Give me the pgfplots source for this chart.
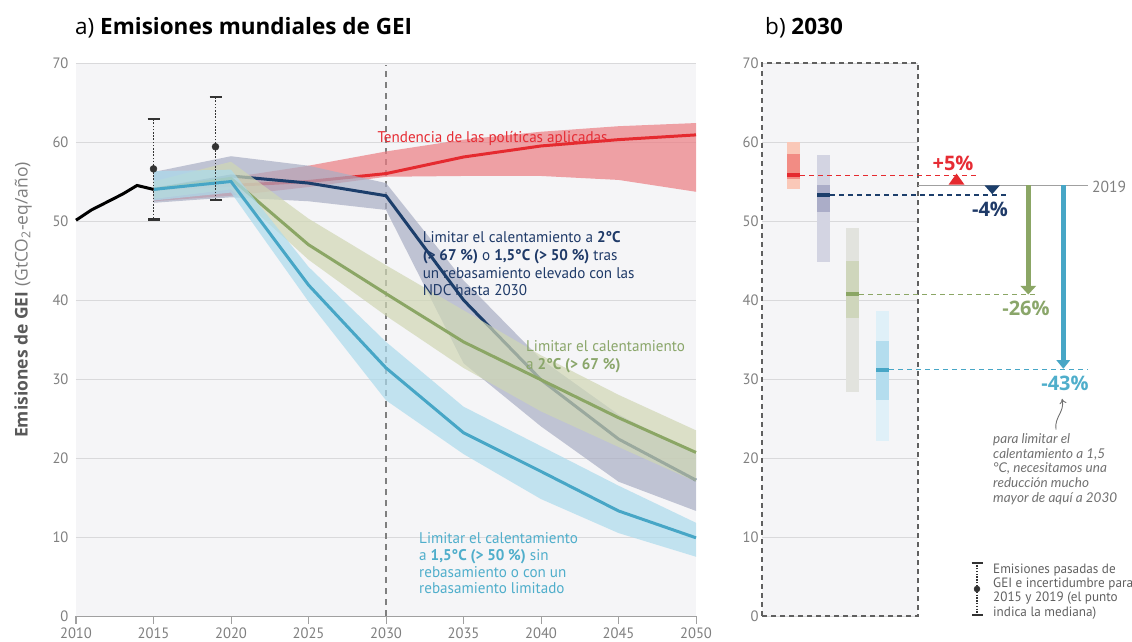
\documentclass[border=0pt]{standalone}
\usepackage{fontspec}
\setmainfont{PT Sans}[FakeStretch=0.975]
\newfontfamily\osfont{Open Sans}
\newfontfamily\notefont{Lato}
\usepackage{pgfplots}
\pgfplotsset{compat=1.18}
\usetikzlibrary{arrows.meta}
\definecolor{bg}{HTML}{F5F5F7}
\definecolor{gridc}{HTML}{D9D9DB}
\definecolor{axisc}{HTML}{A0A0A0}
\definecolor{tickc}{HTML}{7F7F7F}
\definecolor{boxc}{HTML}{606060}
\definecolor{redl}{HTML}{E52A2F}
\definecolor{redb}{HTML}{EC7C82}
\definecolor{navyl}{HTML}{1C3E6B}
\definecolor{navyb}{HTML}{A9AEC4}
\definecolor{greenl}{HTML}{8BA665}
\definecolor{greenb}{HTML}{D0D7B4}
\definecolor{bluel}{HTML}{47A6C6}
\definecolor{blueb}{HTML}{ACDBED}
\definecolor{ebc}{HTML}{333333}
\definecolor{redlt}{HTML}{FAC8B8}
\definecolor{reddk}{HTML}{F28C84}
\definecolor{navylt}{HTML}{D3D4E2}
\definecolor{navydk}{HTML}{ABADC8}
\definecolor{greenlt}{HTML}{E2E3DE}
\definecolor{greendk}{HTML}{CFD6BC}
\definecolor{bluelt}{HTML}{DFF0F8}
\definecolor{bluedk}{HTML}{B4DDEE}
\definecolor{notec}{HTML}{707070}
\definecolor{redt}{HTML}{E62C34}
\definecolor{navyt}{HTML}{1F3A68}
\definecolor{greent}{HTML}{8AA66A}
\definecolor{bluet}{HTML}{4FAECB}
\newcommand\fs[2]{\fontsize{#1}{#2}\selectfont}

\begin{document}
\begin{tikzpicture}
% ================= LEFT PANEL =================
\begin{axis}[
  name=L, at={(0pt,0pt)}, anchor=south west,
  scale only axis, width=620pt, height=553pt,
  xmin=2010, xmax=2050, ymin=0, ymax=70,
  xtick={2010,2015,...,2050}, ytick={0,10,...,70},
  axis background/.style={fill=bg},
  ymajorgrids, grid style={draw=gridc, line width=0.9pt},
  axis x line*=bottom, axis y line*=left,
  x axis line style={draw=axisc, line width=1pt, -},
  y axis line style={draw=none},
  xtick style={draw=axisc, line width=1pt},
  ytick style={draw=none},
  tick align=outside, major tick length=8pt,
  ticklabel style={font=\fs{15}{15}, text=tickc},
  yticklabel style={xshift=4pt},
  /pgf/number format/assume math mode=true,
  /pgf/number format/1000 sep={},
  clip=false,
]
% 2030 dashed reference
\addplot[draw=tickc, line width=1.2pt, dash pattern=on 6pt off 5pt] coordinates {(2030,0) (2030,69.8)};
% current policies
\addplot[fill=redb, fill opacity=0.7, draw=none] coordinates {
 (2015,54.0) (2020,55.5) (2025,57.0) (2030,58.8) (2035,60.3) (2040,61.3) (2045,62.0) (2050,62.4)
 (2050,53.7) (2045,55.2) (2040,55.7) (2035,55.7) (2030,55.6) (2025,54.3) (2020,53.2) (2015,52.5)} -- cycle;
\addplot[redl, line width=3pt] coordinates {
 (2015,54.0) (2020,54.5) (2025,55.0) (2030,56.0) (2035,58.1) (2040,59.5) (2045,60.3) (2050,60.9)};
% NDC + overshoot
\addplot[fill=navyb, fill opacity=0.7, draw=none] coordinates {
 (2015,56.2) (2020,58.2) (2025,57.0) (2030,54.8) (2035,42.5) (2040,32.5) (2045,25.5) (2050,20.5)
 (2050,13.3) (2045,17.0) (2040,24.0) (2035,32.0) (2030,51.4) (2025,52.5) (2020,53.0) (2015,52.3)} -- cycle;
\addplot[navyl, line width=3pt] coordinates {
 (2015,54.0) (2020,55.7) (2025,54.8) (2030,53.2) (2035,40.0) (2040,29.9) (2045,22.4) (2050,17.2)};
% 2C
\addplot[fill=greenb, fill opacity=0.7, draw=none] coordinates {
 (2015,55.0) (2020,57.5) (2025,50.3) (2030,44.4) (2035,38.7) (2040,33.0) (2045,28.0) (2050,23.5)
 (2050,17.0) (2045,21.4) (2040,25.9) (2035,31.4) (2030,38.0) (2025,45.1) (2020,54.0) (2015,52.8)} -- cycle;
\addplot[greenl, line width=3pt] coordinates {
 (2015,54.0) (2020,55.4) (2025,47.0) (2030,40.8) (2035,34.7) (2040,29.9) (2045,25.1) (2050,20.7)};
% 1.5C
\addplot[fill=blueb, fill opacity=0.7, draw=none] coordinates {
 (2015,56.3) (2020,56.5) (2025,44.2) (2030,34.7) (2035,26.5) (2040,21.5) (2045,16.5) (2050,11.8)
 (2050,7.5) (2045,10.5) (2040,14.8) (2035,20.5) (2030,27.3) (2025,39.8) (2020,53.6) (2015,52.6)} -- cycle;
\addplot[bluel, line width=3pt] coordinates {
 (2015,54.0) (2020,55.0) (2025,41.9) (2030,31.4) (2035,23.2) (2040,18.3) (2045,13.3) (2050,9.9)};
% historical
\addplot[black, line width=3pt] coordinates {
 (2010,50.1) (2011,51.4) (2012,52.4) (2013,53.4) (2013.94,54.5) (2015,54.0)};
% error bars
\addplot[only marks, mark=*, mark size=3.5pt, color=ebc, mark options={solid, fill=ebc, draw=ebc},
  error bars/.cd, y dir=both, y explicit,
  error bar style={draw=ebc, line width=1.6pt, dash pattern=on 1.6pt off 1.6pt},
  error mark options={solid, rotate=90, line width=2.2pt, mark size=6pt, draw=ebc}]
  coordinates {(2015,56.6) += (0,6.3) -= (0,6.4) (2019,59.4) += (0,6.3) -= (0,6.7)};
% annotations
\node[anchor=base west, inner sep=0pt, text=redt, font=\fs{15.5}{17}] at (axis cs:2029.44,59.9) {Tendencia de las políticas aplicadas};
\begin{scope}[every node/.style={anchor=base west, inner sep=0pt, text=navyt, font=\fs{15.5}{17}}]
\node at (axis cs:2032.36,47.25) {Limitar el calentamiento a \textbf{2°C}};
\node at (axis cs:2032.36,45.01) {\textbf{(> 67 \%)} o \textbf{1,5°C (> 50 \%)} tras};
\node at (axis cs:2032.36,42.78) {un rebasamiento elevado con las};
\node at (axis cs:2032.36,40.54) {NDC hasta 2030};
\end{scope}
\begin{scope}[every node/.style={anchor=base west, inner sep=0pt, text=greent, font=\fs{15.5}{17}}]
\node at (axis cs:2039.03,33.5) {Limitar el calentamiento};
\node at (axis cs:2039.03,31.25) {a \textbf{2°C (> 67 \%)}};
\end{scope}
\begin{scope}[every node/.style={anchor=base west, inner sep=0pt, text=bluet, font=\fs{15.5}{17}}]
\node at (axis cs:2032.13,9.2) {Limitar el calentamiento};
\node at (axis cs:2032.13,7.0) {a \textbf{1,5°C (> 50 \%)} sin};
\node at (axis cs:2032.13,4.9) {rebasamiento o con un};
\node at (axis cs:2032.13,2.85) {rebasamiento limitado};
\end{scope}
\end{axis}

% ================= RIGHT PANEL =================
\begin{axis}[
  name=R, at={(686pt,0pt)}, anchor=south west,
  scale only axis, width=156pt, height=553pt,
  xmin=0, xmax=156, ymin=0, ymax=70,
  xtick=\empty, ytick={0,10,...,70},
  axis background/.style={fill=bg},
  ymajorgrids, grid style={draw=gridc, line width=0.9pt},
  axis line style={draw=boxc, line width=1.2pt, dash pattern=on 5pt off 4pt},
  ytick style={draw=none},
  ticklabel style={font=\fs{15}{15}, text=tickc},
  /pgf/number format/assume math mode=true,
  clip=false,
]
% ranges (light)
\addplot[fill=redlt, draw=none] coordinates {(25,54.1) (38,54.1) (38,60.0) (25,60.0)} -- cycle;
\addplot[fill=navylt, draw=none] coordinates {(55,44.8) (68,44.8) (68,58.3) (55,58.3)} -- cycle;
\addplot[fill=greenlt, draw=none] coordinates {(84,28.3) (97,28.3) (97,49.1) (84,49.1)} -- cycle;
\addplot[fill=bluelt, draw=none] coordinates {(114,22.1) (127,22.1) (127,38.6) (114,38.6)} -- cycle;
% interquartile (dark)
\addplot[fill=reddk, draw=none] coordinates {(25,55.3) (38,55.3) (38,58.5) (25,58.5)} -- cycle;
\addplot[fill=navydk, draw=none] coordinates {(55,51.1) (68,51.1) (68,54.6) (55,54.6)} -- cycle;
\addplot[fill=greendk, draw=none] coordinates {(84,37.7) (97,37.7) (97,44.9) (84,44.9)} -- cycle;
\addplot[fill=bluedk, draw=none] coordinates {(114,27.3) (127,27.3) (127,34.8) (114,34.8)} -- cycle;
% medians
\addplot[redl, line width=4pt] coordinates {(25,55.8) (38,55.8)};
\addplot[navyl, line width=4pt] coordinates {(55,53.3) (68,53.3)};
\addplot[greenl, line width=4pt] coordinates {(84,40.7) (97,40.7)};
\addplot[bluel, line width=4pt] coordinates {(114,31.2) (127,31.2)};
% dashed extensions
\addplot[draw=redl, line width=1.3pt, dash pattern=on 5pt off 4pt] coordinates {(38,55.8) (215,55.8)};
\addplot[draw=navyl, line width=1.3pt, dash pattern=on 5pt off 4pt] coordinates {(68,53.3) (245,53.3)};
\addplot[draw=greenl, line width=1.3pt, dash pattern=on 5pt off 4pt] coordinates {(97,40.7) (273,40.7)};
\addplot[draw=bluel, line width=1.3pt, dash pattern=on 5pt off 4pt] coordinates {(127,31.2) (326,31.2)};
% 2019 line
\addplot[draw=axisc, line width=1.8pt] coordinates {(156,54.5) (326,54.5)};
% arrows
\addplot[fill=redl, draw=none] coordinates {(186.5,54.6) (202.5,54.6) (194.5,56.0)} -- cycle;
\addplot[fill=navyl, draw=none] coordinates {(222.5,54.5) (237.8,54.5) (230.2,53.4)} -- cycle;
\addplot[fill=greenl, draw=none] coordinates {(263.8,54.5) (268.8,54.5) (268.8,41.8) (263.8,41.8)} -- cycle;
\addplot[fill=greenl, draw=none] coordinates {(258.3,41.8) (274.3,41.8) (266.3,40.7)} -- cycle;
\addplot[fill=bluel, draw=none] coordinates {(298.5,54.5) (304.1,54.5) (304.1,32.4) (298.5,32.4)} -- cycle;
\addplot[fill=bluel, draw=none] coordinates {(294.3,32.4) (308.3,32.4) (301.3,31.3)} -- cycle;
% labels
\node[anchor=base, inner sep=0pt, text=redt, font=\osfont\fs{20}{20}\bfseries] at (axis cs:191,56.4) {+5\%};
\node[anchor=base, inner sep=0pt, text=navyt, font=\osfont\fs{20}{20}\bfseries] at (axis cs:228,50.55) {-4\%};
\node[anchor=base, inner sep=0pt, text=greent, font=\osfont\fs{20}{20}\bfseries] at (axis cs:264,38.1) {-26\%};
\node[anchor=base, inner sep=0pt, text=bluet, font=\osfont\fs{20}{20}\bfseries] at (axis cs:303,28.6) {-43\%};
\node[anchor=base west, inner sep=0pt, text=tickc, font=\fs{16}{16}] at (axis cs:330,53.6) {2019};
% curly arrow
\draw[notec, line width=0.9pt, -{To[length=5pt,width=7pt]}] (axis cs:294,23.6) .. controls (axis cs:292,25.2) and (axis cs:303,25.8) .. (axis cs:300,27.5);
% note
\begin{scope}[every node/.style={anchor=base west, inner sep=0pt, text=notec, font=\notefont\itshape\fs{13.5}{14}}]
\node at (axis cs:231,21.85) {para limitar el};
\node at (axis cs:231,19.99) {calentamiento a 1,5};
\node at (axis cs:231,18.13) {°C, necesitamos una};
\node at (axis cs:231,16.28) {reducción mucho};
\node at (axis cs:231,14.43) {mayor de aquí a 2030};
\end{scope}
% legend marker
\addplot[only marks, mark=*, mark size=3pt, color=ebc, mark options={solid, fill=ebc, draw=ebc},
  error bars/.cd, y dir=both, y explicit,
  error bar style={draw=ebc, line width=1.4pt, dash pattern=on 1.4pt off 1.4pt},
  error mark options={solid, rotate=90, line width=2pt, mark size=5.5pt, draw=ebc}]
  coordinates {(215,3.42) += (0,3.3) -= (0,3.3)};
\begin{scope}[every node/.style={anchor=base west, inner sep=0pt, text=boxc, font=\fs{13.5}{14}}]
\node at (axis cs:231,5.4) {Emisiones pasadas de};
\node at (axis cs:231,3.6) {GEI e incertidumbre para};
\node at (axis cs:231,1.8) {2015 y 2019 (el punto};
\node at (axis cs:231,0.0) {indica la mediana)};
\end{scope}
\end{axis}

% titles and y label
\node[anchor=base west, inner sep=0pt, font=\osfont\fs{22.5}{22.5}] at (-1pt,581pt) {a) \textbf{Emisiones mundiales de GEI}};
\node[anchor=base west, inner sep=0pt, font=\osfont\fs{22.5}{22.5}] at (689pt,581pt) {b) \textbf{2030}};
\node[rotate=90, anchor=center, inner sep=0pt, font=\osfont\fs{17.5}{17.5}, text=tickc] at (-53pt,316pt)
  {\textcolor{black!65}{\textbf{Emisiones de GEI}} (GtCO\textsubscript{2}-eq/año)};

\pgfresetboundingbox
\path (-76pt,-25pt) rectangle (1056pt,616pt);
\end{tikzpicture}
\end{document}
